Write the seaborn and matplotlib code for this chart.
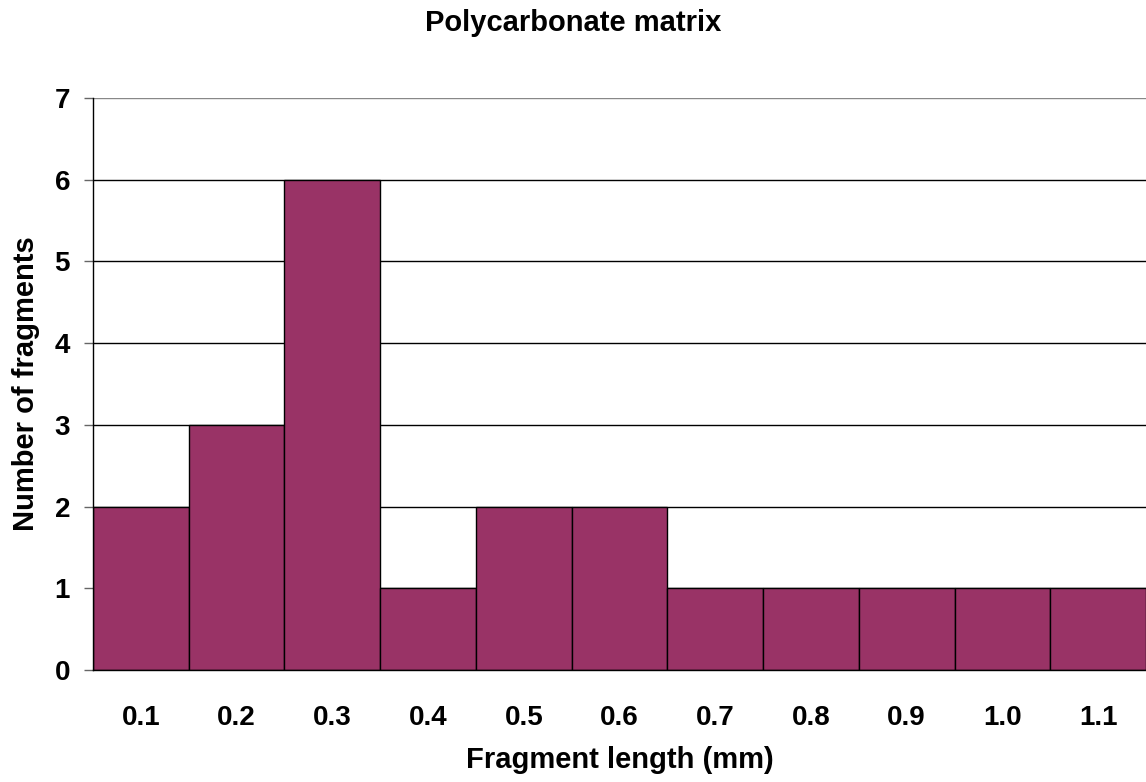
import matplotlib
matplotlib.use("Agg")
import matplotlib.pyplot as plt
import seaborn as sns
import pandas as pd

categories = ["0.1", "0.2", "0.3", "0.4", "0.5", "0.6", "0.7", "0.8", "0.9", "1.0", "1.1"]
counts = [2, 3, 6, 1, 2, 2, 1, 1, 1, 1, 1]
y_ticks = [0, 1, 2, 3, 4, 5, 6, 7]

sns.set_style("white")
plt.rcParams["font.family"] = ["Liberation Sans", "DejaVu Sans"]
plt.rcParams["font.weight"] = "bold"
plt.rcParams["text.color"] = "black"
plt.rcParams["axes.labelcolor"] = "black"
plt.rcParams["xtick.color"] = "black"
plt.rcParams["ytick.color"] = "black"

df = pd.DataFrame({"length": categories, "count": counts})

W, H = 1146, 782
fig = plt.figure(figsize=(W / 100, H / 100), dpi=100)
ax = fig.add_axes([93 / W, 1 - 670 / H, 1 - 93 / W, (670 - 98) / H])

sns.barplot(data=df, x="length", y="count", order=categories, color="#993366",
            saturation=1, width=1.0, edgecolor="black", linewidth=1, ax=ax, zorder=3)

ax.set_xlim(-0.5, len(categories) - 0.5)
ax.set_ylim(0, 7)
ax.set_yticks(y_ticks)
ax.set_yticklabels([str(t) for t in y_ticks])
ax.set_axisbelow(True)
ax.yaxis.grid(True, color="black", linewidth=1)
ax.xaxis.grid(False)
gl = ax.yaxis.get_gridlines()
if gl:
    gl[-1].set_color("#888888")

for s in ["top", "right"]:
    ax.spines[s].set_visible(False)
for s in ["left", "bottom"]:
    ax.spines[s].set_color("black")
    ax.spines[s].set_linewidth(1)
    ax.spines[s].set_zorder(4)

ax.tick_params(axis="y", which="major", left=True, length=6.5, width=1, color="#666666",
               labelcolor="black", pad=10, labelsize=20)
ax.tick_params(axis="x", which="major", bottom=False, length=0, pad=25, labelsize=20,
               labelcolor="black")
for lab in ax.get_xticklabels() + ax.get_yticklabels():
    lab.set_fontweight("bold")
    lab.set_color("black")

ax.set_xlabel("Fragment length (mm)", fontsize=21, fontweight="bold", color="black")
ax.set_ylabel("Number of fragments", fontsize=21, fontweight="bold", color="black")
ax.xaxis.set_label_coords(0.5, (670 - 746) / 572)
ax.yaxis.set_label_coords((40 - 93) / 1053, 0.5)

fig.suptitle("Polycarbonate matrix", x=0.5, y=1 - 9 / H, va="top",
             fontsize=21, fontweight="bold", color="black")

fig.savefig("out.png", dpi=100)
